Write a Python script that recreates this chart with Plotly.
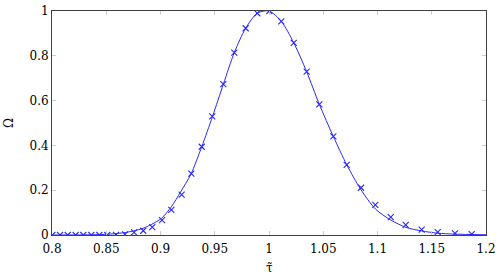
import plotly.graph_objects as go

# Line (theory curve)
line_x = [0.80, 0.83, 0.85, 0.858, 0.866, 0.875, 0.884, 0.892, 0.901, 0.910, 0.9186,
          0.928, 0.938, 0.948, 0.958, 0.968, 0.9785, 0.9892, 1.0, 1.0113, 1.0228,
          1.0347, 1.0464, 1.0593, 1.0716, 1.0845, 1.0983, 1.1122, 1.1263, 1.1407,
          1.1555, 1.1708, 1.2]
line_y = [0.0, 0.0005, 0.003, 0.006, 0.010, 0.018, 0.030, 0.048, 0.075, 0.126, 0.193,
          0.271, 0.394, 0.530, 0.674, 0.814, 0.923, 0.990, 1.0, 0.954, 0.858,
          0.729, 0.583, 0.440, 0.314, 0.204, 0.115, 0.067, 0.034, 0.018,
          0.008, 0.004, 0.001]

# Markers (simulated points)
pts_x = [0.8003, 0.8074, 0.8145, 0.8218, 0.8288, 0.8362, 0.8436, 0.8510, 0.8590,
         0.8673, 0.8756, 0.8841, 0.8924, 0.9014, 0.9100, 0.9195, 0.9284, 0.9380,
         0.9477, 0.9579, 0.9680, 0.9785, 0.9892, 1.0003, 1.0113, 1.0228, 1.0347,
         1.0464, 1.0593, 1.0716, 1.0848, 1.0980, 1.1122, 1.1260, 1.1407, 1.1555,
         1.1714, 1.1868]
pts_y = [0.0, 0.0, 0.0, 0.0, 0.0, 0.0, 0.0, 0.0, 0.001,
         0.003, 0.012, 0.019, 0.035, 0.066, 0.112, 0.180, 0.274, 0.394,
         0.530, 0.674, 0.814, 0.923, 0.990, 1.0, 0.954, 0.858, 0.729,
         0.583, 0.440, 0.313, 0.211, 0.134, 0.080, 0.045, 0.024, 0.013,
         0.007, 0.004]

x_ticks = [0.8, 0.85, 0.9, 0.95, 1.0, 1.05, 1.1, 1.15, 1.2]
x_tick_text = ["0.8", "0.85", "0.9", "0.95", "1", "1.05", "1.1", "1.15", "1.2"]
y_ticks = [0, 0.2, 0.4, 0.6, 0.8, 1.0]
y_tick_text = ["0", "0.2", "0.4", "0.6", "0.8", "1"]
x_title = "τ̃"
y_title = "Ω"

blue = "rgb(40,40,255)"

fig = go.Figure()
fig.add_trace(go.Scatter(x=line_x, y=line_y, mode="lines",
                         line=dict(color=blue, width=1, shape="spline", smoothing=0.8),
                         showlegend=False, hoverinfo="skip"))
fig.add_trace(go.Scatter(x=pts_x, y=pts_y, mode="markers",
                         marker=dict(symbol="x-thin", size=6, line=dict(color=blue, width=1.1)),
                         showlegend=False))

font = dict(family="DejaVu Serif", size=12, color="black")
axis_common = dict(showgrid=False, zeroline=False, showline=True, linecolor="#404040",
                   linewidth=1, mirror="ticks", ticks="inside", ticklen=4,
                   tickcolor="#cccccc", tickwidth=1, tickfont=font, automargin=False,
                   ticklabeloverflow="allow")

fig.update_layout(
    width=500, height=278,
    margin=dict(l=52, r=14, t=11, b=43),
    paper_bgcolor="white", plot_bgcolor="white",
    font=font,
    xaxis=dict(range=[0.8, 1.2], tickvals=x_ticks, ticktext=x_tick_text,
               ticklabelstandoff=3, **axis_common),
    yaxis=dict(range=[0, 1], tickvals=y_ticks, ticktext=y_tick_text, **axis_common),
    annotations=[
        dict(text=x_title, xref="paper", yref="paper", x=0.5, y=-0.147,
             showarrow=False, font=font, xanchor="center", yanchor="middle"),
        dict(text=y_title, xref="paper", yref="paper", x=-0.099, y=0.5,
             showarrow=False, font=font, textangle=-90, xanchor="center", yanchor="middle"),
    ],
)

fig.write_html("out.html", config={"displayModeBar": False},
               post_script="document.body.style.margin='0';document.body.style.overflow='hidden';")
